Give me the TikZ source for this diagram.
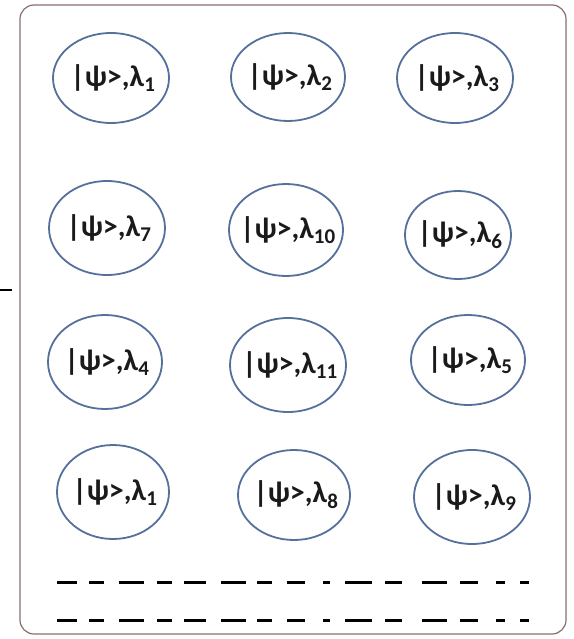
\documentclass[tikz,border=0pt]{standalone}
\usepackage{fontspec}
\setmainfont{Carlito}
\definecolor{ringblue}{HTML}{56709C}
\definecolor{boxedge}{HTML}{8C6E70}
\definecolor{txt}{HTML}{1A1A1A}
\tikzset{
  lbl/.style={font=\fontsize{30}{32}\selectfont\bfseries, text=txt, inner sep=0pt},
  dashseg/.style={line width=3pt, black},
}
\newcommand{\stt}[1]{|ψ>,λ\textsubscript{#1}}
\begin{document}
\begin{tikzpicture}[x=1pt,y=-1pt]
\useasboundingbox (0,0) rectangle (573,639);
\fill[white] (0,0) rectangle (573,639);
\draw[boxedge, line width=1.2pt, rounded corners=14pt] (20,5) rectangle (566,634);
\draw[black, line width=1.8pt] (0,290) -- (12,290);
% ellipses
\foreach \n/\x/\y/\rx/\ry/\s in {
  a/111/78/58/45/1, b/288/77/57/44/2, c/455/78/58/45/3,
  d/107/228/58/47/7, e/286/230/57/46/10, f/458/235/53/44/6,
  g/105/362/57/47/4, h/288/365/58/47/11, i/468/360/57/45/5,
  j/113/492/56/47/1, k/294/495/56/45/8, l/472/497/58/47/9} {
  \draw[ringblue, line width=1.8pt] (\x,\y) ellipse [x radius=\rx, y radius=\ry];
  \node[lbl] (\n) at ([xshift=2pt]\x,\y) {\stt{\s}};
}
% dashed lines
\foreach \yy in {582,620} {
  \foreach \a/\b in {57/77, 89/104, 119/144, 157/172, 184/206, 221/246, 257/272, 287/305, 323/330, 345/372, 385/402, 422/447, 460/478, 496/505, 520/529} {
    \draw[dashseg] (\a,\yy) -- (\b,\yy);
  }
}
\end{tikzpicture}
\end{document}
